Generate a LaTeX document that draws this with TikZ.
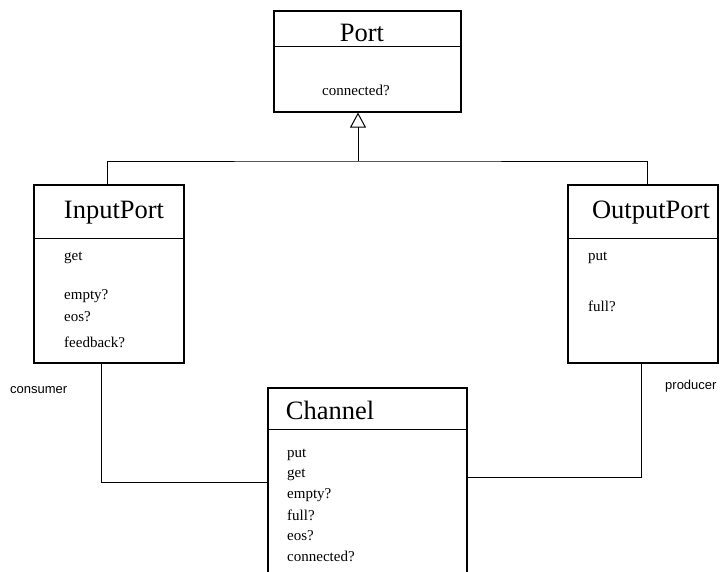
\documentclass[tikz,border=0pt]{standalone}
\usepackage{fontspec}
\setmainfont{Liberation Serif}
\newfontfamily\labelfont{Liberation Sans}
\usetikzlibrary{arrows.meta}
\begin{document}
\begin{tikzpicture}[x=1pt,y=-1pt,
  classbox/.style={draw, line width=1.1pt, inner sep=0pt, minimum width=#1},
  header/.style={font=\fontsize{26.5}{30}\selectfont, inner sep=0pt},
  item/.style={font=\fontsize{15}{18}\selectfont, anchor=west, inner sep=0pt},
  role/.style={font=\labelfont\fontsize{13}{15}\selectfont, anchor=west, inner sep=0pt},
  link/.style={line width=0.9pt},
  divider/.style={line width=1.1pt}]
\useasboundingbox[fill=white] (0,0) rectangle (722,572);
\clip (0,0) rectangle (722,572);
% boxes
\node[classbox=187pt, minimum height=101pt] (port) at (367.5,61.5) {};
\node[classbox=150pt, minimum height=178pt] (inputbox) at (109,274) {};
\node[classbox=150pt, minimum height=178pt] (outputbox) at (643,274) {};
\node[classbox=199pt, minimum height=210pt] (channel) at (367.5,493) {};
% dividers
\draw[divider] ([yshift=-36pt]port.north west) -- ([yshift=-36pt]port.north east);
\draw[divider] ([yshift=-54pt]inputbox.north west) -- ([yshift=-54pt]inputbox.north east);
\draw[divider] ([yshift=-54pt]outputbox.north west) -- ([yshift=-54pt]outputbox.north east);
\draw[divider] ([yshift=-42pt]channel.north west) -- ([yshift=-42pt]channel.north east);
% headers
\node[header] (portname) at (362,33) {Port};
\node[header] (inname) at (114,213) {InputPort};
\node[header] (outname) at (651,213) {OutputPort};
\node[header] (chname) at (330,410) {Channel};
% items
\node[item] (p1) at (322,90) {connected?};
\node[item] (i1) at (64,258) {get};
\node[item] (i2) at (64,296) {empty?};
\node[item] (i3) at (64,317) {eos?};
\node[item] (i4) at (64,342) {feedback?};
\node[item] (o1) at (588,258) {put};
\node[item] (o2) at (588,306) {full?};
\node[item] (c1) at (287,455) {put};
\node[item] (c2) at (287,475) {get};
\node[item] (c3) at (287,495) {empty?};
\node[item] (c4) at (287,515) {full?};
\node[item] (c5) at (287,536) {eos?};
\node[item] (c6) at (287,556) {connected?};
% roles
\node[role] (consumer) at (10,390) {consumer};
\node[role] (producer) at (665,386) {producer};
% inheritance
\coordinate (hub) at (358,161);
\draw[link] ([xshift=-2pt]inputbox.north) |- (hub) -| ([xshift=4pt]outputbox.north);
\draw[link, -{Triangle[open, width=16pt, length=15pt, line width=1pt]}] (hub) -- ([xshift=-9.5pt]port.south);
% associations
\draw[link] ([xshift=-8pt]inputbox.south) |- ([yshift=-95pt]channel.north west);
\draw[link] ([xshift=-2pt]outputbox.south) |- ([yshift=-90pt]channel.north east);
\end{tikzpicture}
\end{document}
